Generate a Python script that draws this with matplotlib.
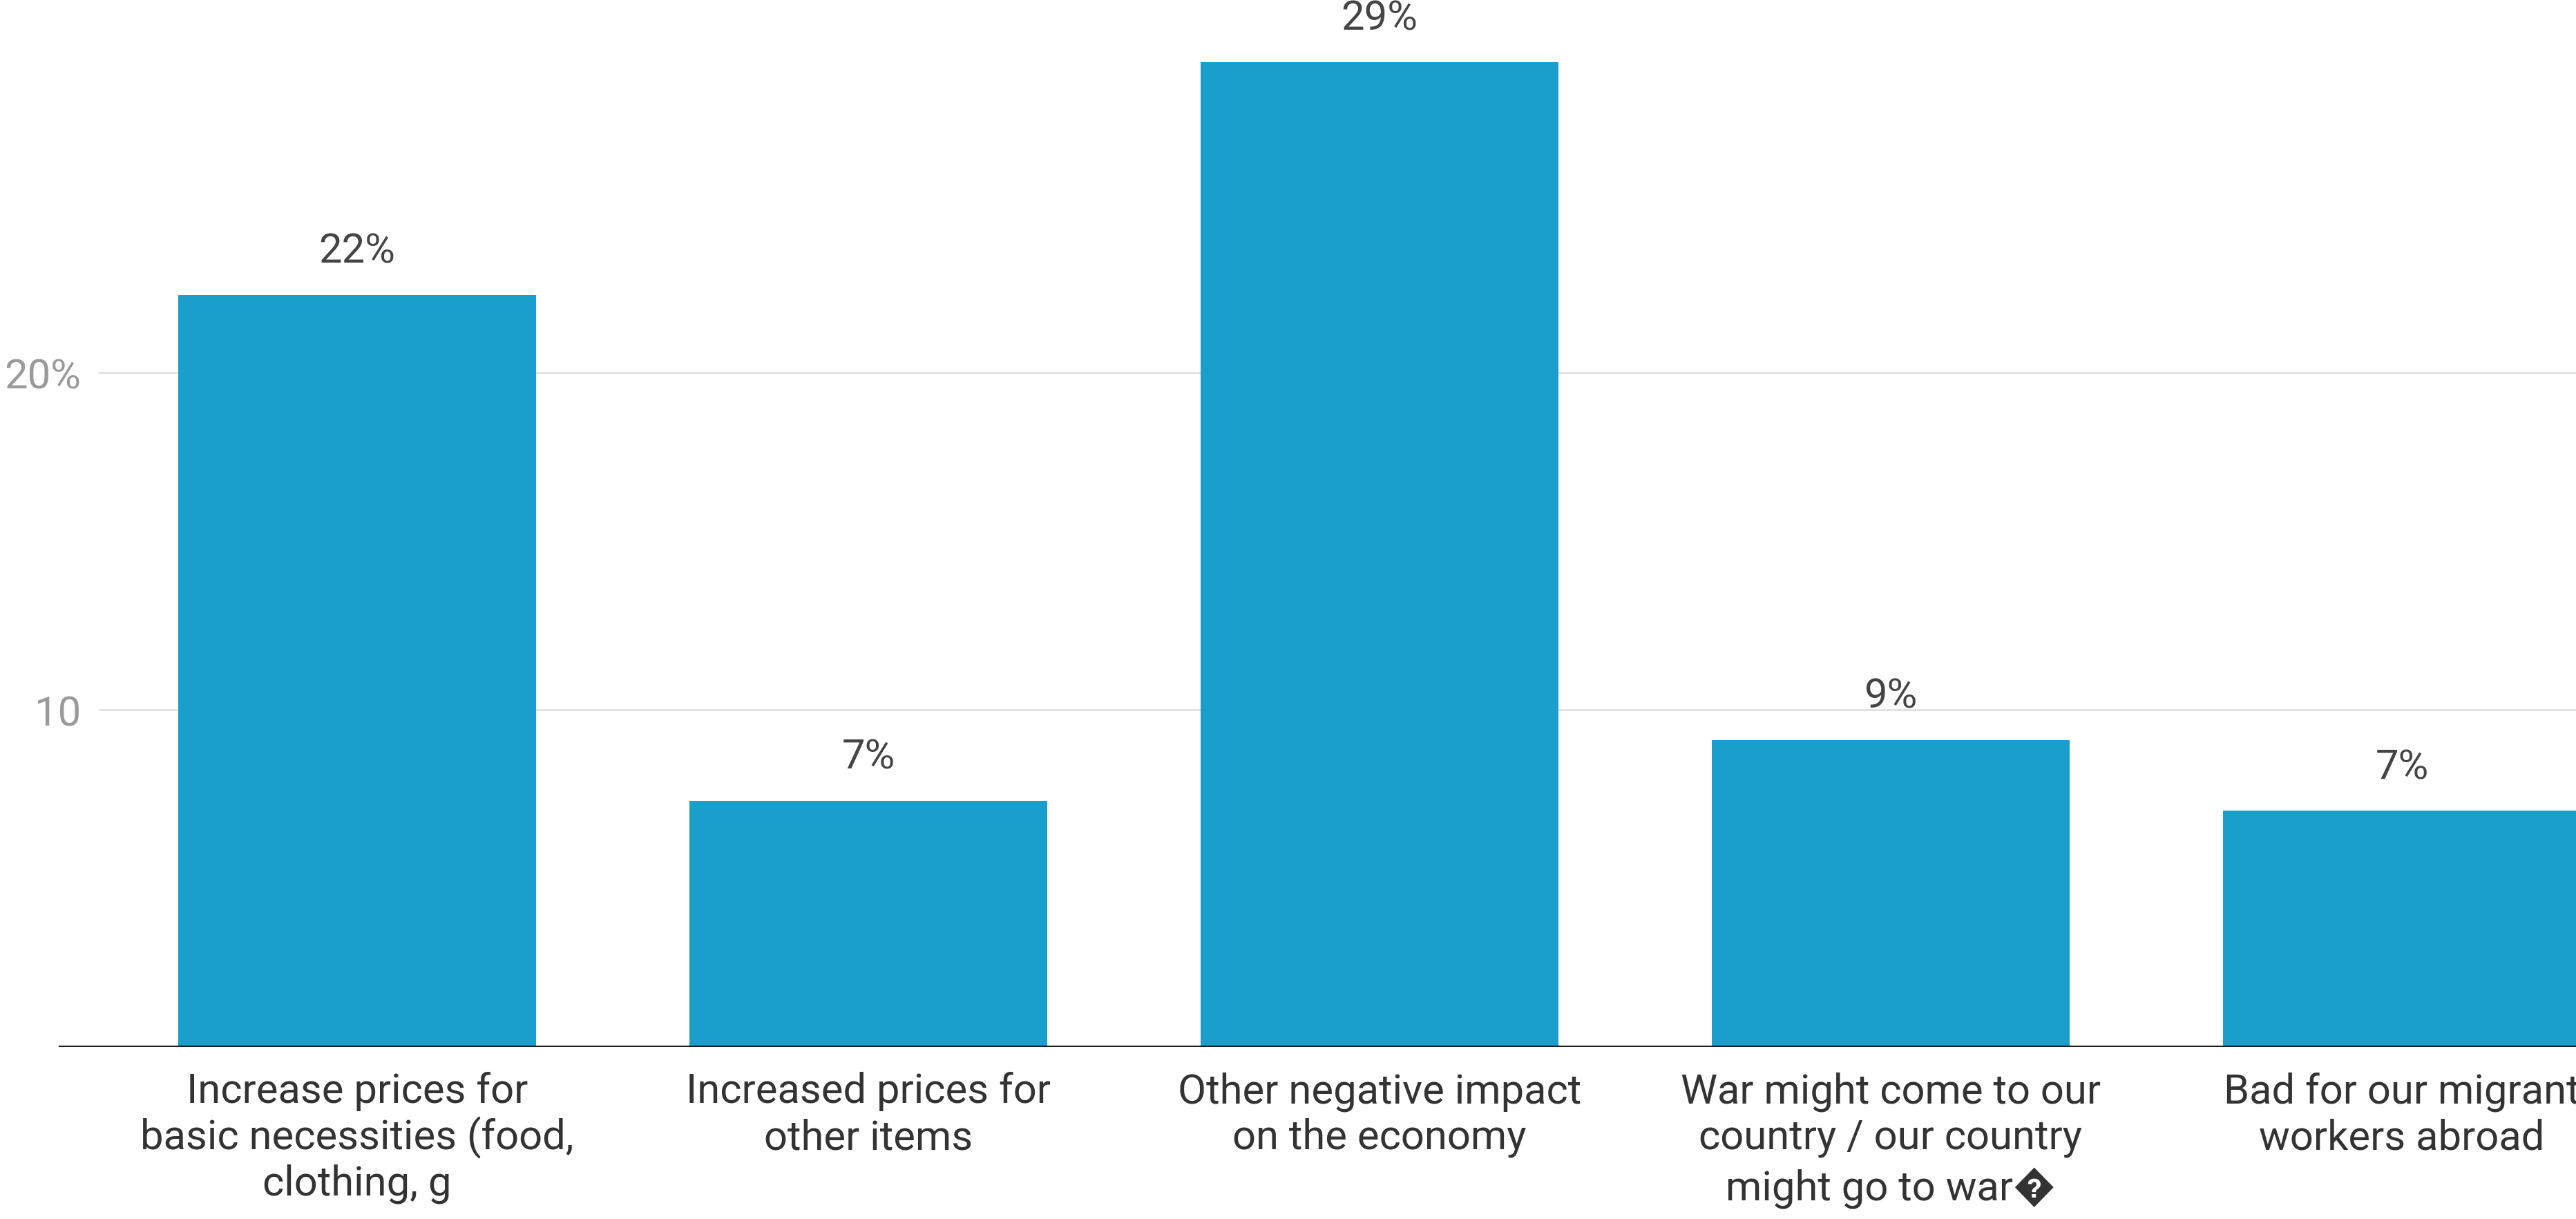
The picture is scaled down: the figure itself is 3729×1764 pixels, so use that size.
import matplotlib
matplotlib.use("Agg")
import matplotlib.pyplot as plt
import numpy as np

plt.rcParams['font.family'] = ['Roboto', 'DejaVu Sans']

categories = [
    "Increase prices for\nbasic necessities (food,\nclothing, g",
    "Increased prices for\nother items",
    "Other negative impact\non the economy",
    "War might come to our\ncountry / our country\nmight go to war\ufffd",
    "Bad for our migrant\nworkers abroad",
]
values = [22.3, 7.3, 29.2, 9.1, 7.0]
value_labels = ["22%", "7%", "29%", "9%", "7%"]
tick_values = [10, 20]
tick_labels = ["10", "20%"]

W, H, DPI = 3730, 1765, 100
fig = plt.figure(figsize=(W / DPI, H / DPI), dpi=DPI)
left_px, base_px = 85, 1516
ax = fig.add_axes([left_px / W, (H - base_px) / H, 1 - left_px / W, base_px / H])

x = np.arange(len(categories))
ax.bar(x, values, width=0.70, color='#1a9fcc', zorder=2)

ax.set_ylim(0, base_px / 48.8)
ax.set_xlim((left_px - 517) / 740, (W - 517) / 740)

# gridlines (start slightly right of axis start)
ax.hlines(tick_values, 58 / (W - left_px), 1, transform=ax.get_yaxis_transform(),
          colors='#e3e3e3', linewidth=2.2, zorder=1)
ax.axhline(0, color='#1a1a1a', linewidth=2.6, zorder=3)

ax.set_yticks(tick_values)
ax.set_yticklabels(tick_labels)
ax.tick_params(axis='y', length=0, pad=-23, labelsize=43, labelcolor='#9a9a9a')
for lbl in ax.get_yticklabels():
    lbl.set_horizontalalignment('right')

ax.set_xticks(x)
ax.set_xticklabels([])
ax.tick_params(axis='x', length=0)

# category labels, one line at a time for uniform spacing
for xi, cat in zip(x, categories):
    for i, line in enumerate(cat.split("\n")):
        ax.annotate(line, (xi, 0), xycoords=('data', 'axes fraction'),
                    xytext=(0, -(46 + 48 * i)), textcoords='offset points',
                    ha='center', va='center', fontsize=43, color='#333333',
                    annotation_clip=False)

for s in ax.spines.values():
    s.set_visible(False)

for xi, v, lab in zip(x, values, value_labels):
    ax.annotate(lab, (xi, v), xytext=(0, 46), textcoords='offset points',
                ha='center', va='center', fontsize=43, color='#444444', zorder=4)

fig.savefig('out.png', dpi=DPI, facecolor='white')
